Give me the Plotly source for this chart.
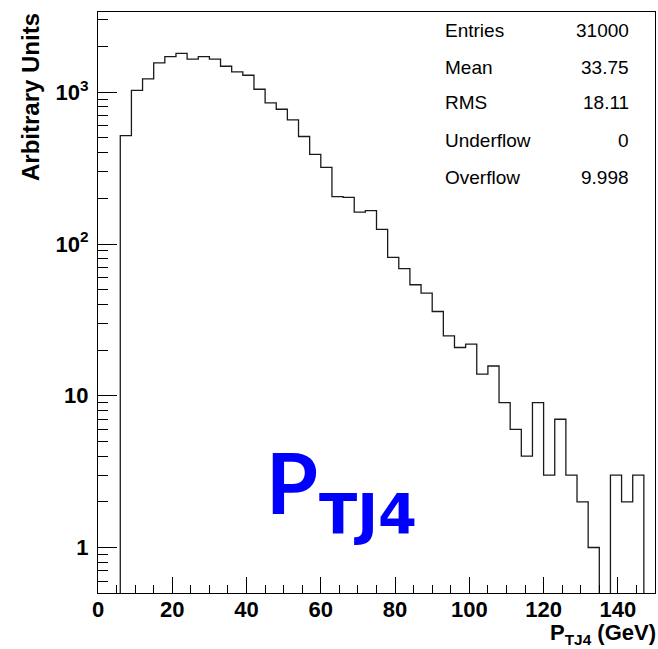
import plotly.graph_objects as go

# ---------------- data ----------------
bin_edges = list(range(0, 151, 3))          # 50 bins of 3 GeV, 0..150
counts = [0, 0, 518, 1030, 1225, 1563, 1719, 1807, 1652, 1715,
          1652, 1484, 1363, 1295, 1047, 851, 773, 658, 511, 390,
          320, 205, 203, 162, 166, 125, 81.6, 68.8, 53.9, 47.5,
          35.9, 24.8, 20.8, 21.9, 13.9, 15.7, 9, 6, 4, 9,
          3, 7, 3, 2, 1, 0, 3, 2, 3, 0]

x_tick_vals = [0, 20, 40, 60, 80, 100, 120, 140]
y_tick_vals = [1, 10, 100, 1000]
y_tick_text = ["1", "10", "10<sup>2</sup>", "10<sup>3</sup>"]
y_minor_vals = [0.6, 0.7, 0.8, 0.9] + [m * d for d in (1, 10, 100) for m in range(2, 10)] + [2000, 3000]

stat_names = ["Entries", "Mean", "RMS", "Underflow", "Overflow"]
stat_values = ["31000", "33.75", "18.11", "0", "9.998"]

# ---------------- figure ----------------
W, H = 658, 649
L, R, T, B = 98, 3, 12, 56
pw, ph = W - L - R, H - T - B


def px(xp):
    return (xp - L) / pw


def py(yp):
    return (H - B - yp) / ph


# zero bins drawn below the visible log range so the outline drops to the axis
draw_counts = [c if c > 0 else 1e-3 for c in counts]
step_x = bin_edges
step_y = draw_counts + [draw_counts[-1]]

fig = go.Figure()
fig.add_trace(go.Scatter(
    x=step_x, y=step_y, mode="lines", line_shape="hv",
    line=dict(color="#1a1a1a", width=1.3), showlegend=False, hoverinfo="skip"))

tick_font = dict(family="Liberation Sans, Arial, sans-serif", size=22, color="black", weight="bold")

fig.update_xaxes(
    range=[0, 150], showgrid=False, zeroline=False,
    showline=True, mirror=True, linecolor="black", linewidth=1,
    tickmode="array", tickvals=x_tick_vals, ticks="inside", ticklen=16,
    tickcolor="black", tickwidth=1, tickfont=tick_font,
    ticklabelstandoff=-3,
    minor=dict(dtick=5, tick0=0, ticks="inside", ticklen=8, tickcolor="black", tickwidth=1, showgrid=False),
)
fig.update_yaxes(
    type="log", range=[-0.30, 3.529], showgrid=False, zeroline=False,
    showline=True, mirror=True, linecolor="black", linewidth=1,
    tickmode="array", tickvals=y_tick_vals, ticktext=y_tick_text,
    ticks="inside", ticklen=19, tickcolor="black", tickwidth=1, tickfont=tick_font,
    ticklabelstandoff=4,
    minor=dict(tickmode="array", tickvals=y_minor_vals, ticks="inside", ticklen=10,
               tickcolor="black", tickwidth=1, showgrid=False),
)

annotations = []
stat_font = dict(family="Liberation Sans, Arial, sans-serif", size=19, color="black")
row_y = [31, 67, 103, 140, 177]
for name, val, yy in zip(stat_names, stat_values, row_y):
    annotations.append(dict(xref="paper", yref="paper", x=px(443), y=py(yy), text=name,
                            showarrow=False, xanchor="left", yanchor="middle", font=stat_font))
    annotations.append(dict(xref="paper", yref="paper", x=px(631), y=py(yy), text=val,
                            showarrow=False, xanchor="right", yanchor="middle", font=stat_font))

# axis titles
annotations.append(dict(xref="paper", yref="paper", x=px(31), y=py(11), text="Arbitrary Units",
                        textangle=-90, showarrow=False, xanchor="center", yanchor="top",
                        font=dict(family="Liberation Sans, Arial, sans-serif", size=24, color="black", weight="bold")))
annotations.append(dict(xref="paper", yref="paper", x=px(658), y=py(634), text="P<sub>TJ4</sub> (GeV)",
                        showarrow=False, xanchor="right", yanchor="middle",
                        font=dict(family="Liberation Sans, Arial, sans-serif", size=22, color="black", weight="bold")))

# big blue label
label_font = "Lato, Noto Sans, sans-serif"
annotations.append(dict(xref="paper", yref="paper", x=px(292), y=py(481), text="P",
                        showarrow=False, xanchor="center", yanchor="middle",
                        font=dict(family=label_font, size=84, color="#0000ff", weight="bold")))
annotations.append(dict(xref="paper", yref="paper", x=px(368), y=py(513), text="TJ4",
                        showarrow=False, xanchor="center", yanchor="middle",
                        font=dict(family="DejaVu Sans, sans-serif", size=56, color="#0000ff", weight="bold")))

fig.update_layout(
    width=W, height=H, margin=dict(l=L, r=R, t=T, b=B),
    paper_bgcolor="white", plot_bgcolor="white",
    annotations=annotations, showlegend=False,
)

fig.write_html("out.html")
